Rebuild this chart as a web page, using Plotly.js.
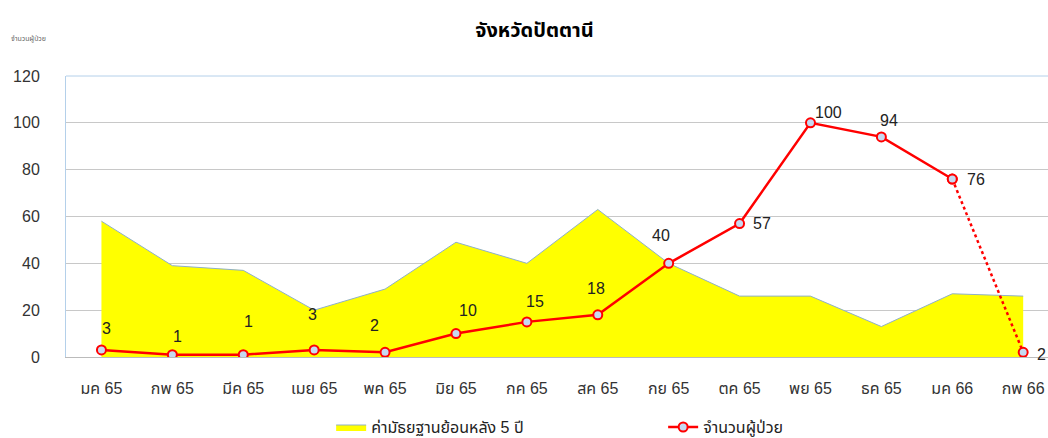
<!DOCTYPE html>
<html>
<head>
<meta charset="utf-8">
<script src="https://cdn.plot.ly/plotly-3.0.1.min.js"></script>
<style>html,body{margin:0;padding:0;overflow:hidden;background:#fff;}#wrap{width:1048px;height:438px;overflow:hidden;}#chart{width:1048px;height:446px;}</style>
</head>
<body>
<div id="wrap"><div id="chart"></div></div>
<script>
const months = ["มค 65","กพ 65","มีค 65","เมย 65","พค 65","มิย 65","กค 65","สค 65","กย 65","ตค 65","พย 65","ธค 65","มค 66","กพ 66"];
const median5y = [58, 39, 37, 20, 29, 49, 40, 63, 40, 26, 26, 13, 27, 26];
const patients = [3, 1, 1, 3, 2, 10, 15, 18, 40, 57, 100, 94, 76, 2];
const seriesNames = ["ค่ามัธยฐานย้อนหลัง 5 ปี", "จำนวนผู้ป่วย"];
const chartTitle = "จังหวัดปัตตานี";
const yTitle = "จำนวนผู้ป่วย";

// label offsets (pixels) – style only
const labelDx = [5, 5, 5, -2, -11, 12, 8, -2, -8, 22, 18, 8, 24, 18];
const labelDy = [21, 18, 33, 35, 27, 23, 20, 26, 28, 0, 10, 16, 0, -2];

const FONT = "Liberation Sans, Arial, 'Noto Sans Thai', 'Noto Sans', sans-serif";
const solidN = patients.length - 1;

const traces = [
  {
    x: months, y: median5y, type: "scatter", mode: "lines", name: seriesNames[0],
    fill: "tozeroy", fillcolor: "#FFFF00",
    line: {color: "#8fb0c8", width: 1}
  },
  {
    x: months.slice(0, solidN), y: patients.slice(0, solidN), type: "scatter", mode: "lines+markers",
    name: seriesNames[1],
    line: {color: "#FF0000", width: 2.5},
    marker: {symbol: "circle", size: 9, color: "#c6d9f1", line: {color: "#FF0000", width: 2}}
  },
  {
    x: months.slice(solidN - 1), y: patients.slice(solidN - 1), type: "scatter", mode: "lines+markers",
    showlegend: false, hoverinfo: "skip",
    line: {color: "#FF0000", width: 2.5, dash: "dot"},
    marker: {symbol: "circle", size: 9, color: "#c6d9f1", line: {color: "#FF0000", width: 2}}
  }
];

const annotations = patients.map((v, i) => ({
  x: months[i], y: v, xref: "x", yref: "y", text: String(v), showarrow: false,
  xshift: labelDx[i], yshift: labelDy[i],
  font: {family: FONT, size: 16, color: "#222"}
}));
annotations.push({
  xref: "paper", yref: "paper", x: -0.058, y: 1.13, xanchor: "left", yanchor: "middle",
  text: yTitle, showarrow: false, font: {family: FONT, size: 7, color: "#666"}
});

const layout = {
  width: 1048, height: 446,
  margin: {l: 66, r: 0, t: 76, b: 89},
  paper_bgcolor: "#fff", plot_bgcolor: "#fff",
  title: {text: "<b>" + chartTitle + "</b>", x: 0.51, xanchor: "center", y: 0.932, yanchor: "middle",
          font: {family: FONT, size: 20, color: "#000"}},
  font: {family: FONT, size: 16, color: "#333"},
  xaxis: {
    type: "category", range: [-0.5, 13.35], showgrid: false, zeroline: false,
    showline: true, linecolor: "#bbbbbb", linewidth: 1,
    ticks: "outside", ticklen: 17, tickcolor: "rgba(0,0,0,0)",
    tickfont: {family: FONT, size: 16, color: "#333"}
  },
  yaxis: {
    range: [0, 120], dtick: 20, showgrid: true, gridcolor: "#c8c8c8", gridwidth: 1,
    zeroline: false, showline: true, linecolor: "#b4d0ea", linewidth: 1,
    ticks: "outside", ticklen: 22, tickcolor: "rgba(0,0,0,0)",
    tickfont: {family: FONT, size: 16, color: "#333"}
  },
  shapes: [
    {type: "line", xref: "paper", yref: "paper", x0: 0, x1: 1, y0: 1, y1: 1, line: {color: "#b4d0ea", width: 1}}
  ],
  legend: {
    orientation: "h", x: 0.27, xanchor: "left", y: -0.31, yanchor: "bottom",
    entrywidth: 287, entrywidthmode: "pixels",
    font: {family: FONT, size: 16, color: "#222"}
  },
  annotations: annotations,
  showlegend: true
};

Plotly.newPlot("chart", traces, layout, {displayModeBar: false, staticPlot: true});
</script>
</body>
</html>
